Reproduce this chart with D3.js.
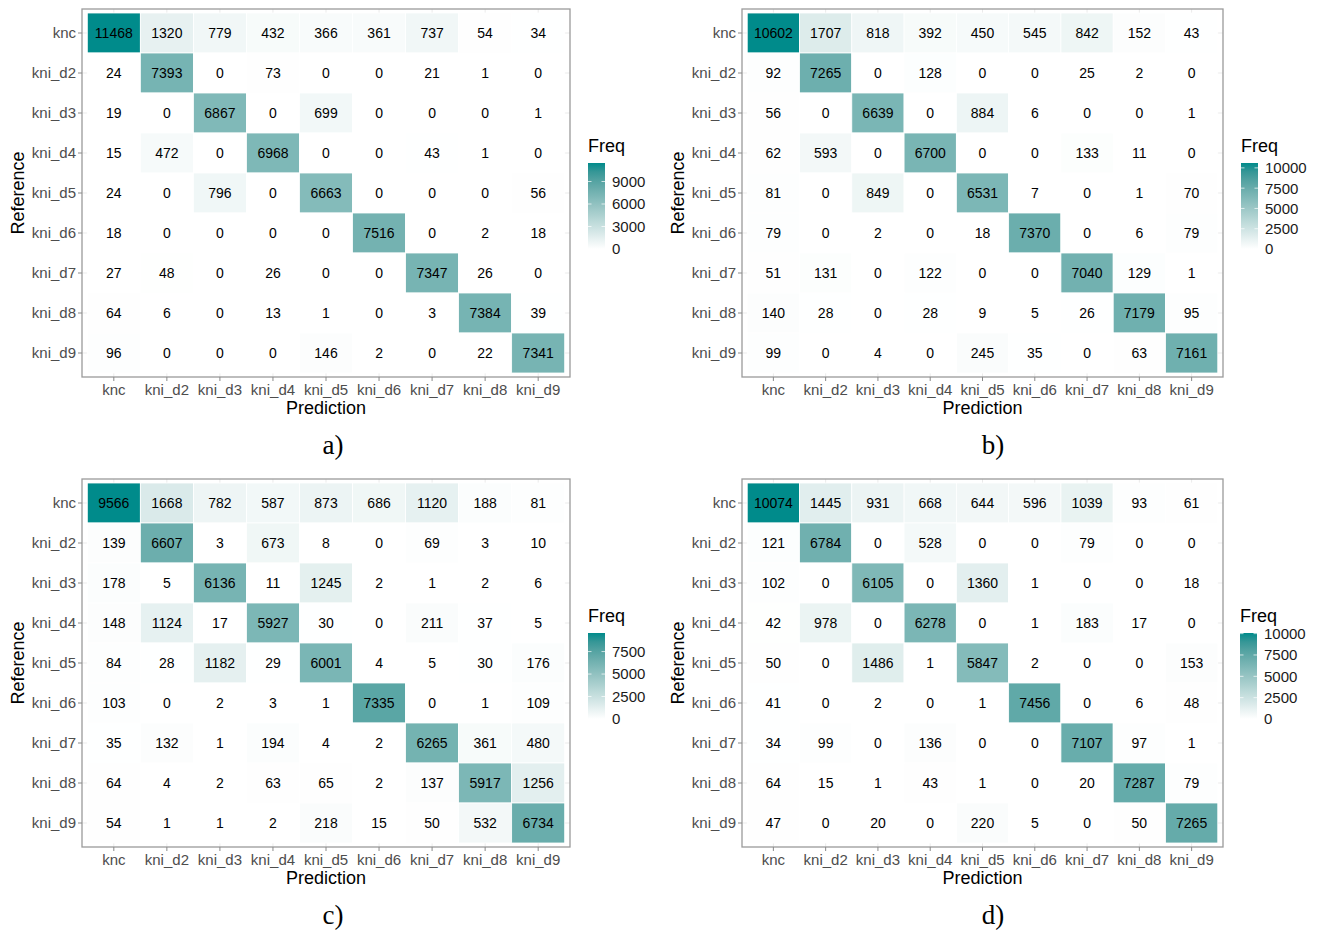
<!DOCTYPE html>
<html>
<head>
<meta charset="utf-8">
<script src="https://cdn.jsdelivr.net/npm/d3@7"></script>
<style>
  body { margin: 0; background: #fff; }
  svg { display: block; }
</style>
</head>
<body>
<svg id="chart" width="1322" height="933"></svg>
<script>
'use strict';

var classes = ['knc', 'kni_d2', 'kni_d3', 'kni_d4', 'kni_d5', 'kni_d6', 'kni_d7', 'kni_d8', 'kni_d9'];

// rows = Reference, columns = Prediction
var matrixA = [
    [11468, 1320, 779, 432, 366, 361, 737, 54, 34],
    [24, 7393, 0, 73, 0, 0, 21, 1, 0],
    [19, 0, 6867, 0, 699, 0, 0, 0, 1],
    [15, 472, 0, 6968, 0, 0, 43, 1, 0],
    [24, 0, 796, 0, 6663, 0, 0, 0, 56],
    [18, 0, 0, 0, 0, 7516, 0, 2, 18],
    [27, 48, 0, 26, 0, 0, 7347, 26, 0],
    [64, 6, 0, 13, 1, 0, 3, 7384, 39],
    [96, 0, 0, 0, 146, 2, 0, 22, 7341]
];

var matrixB = [
    [10602, 1707, 818, 392, 450, 545, 842, 152, 43],
    [92, 7265, 0, 128, 0, 0, 25, 2, 0],
    [56, 0, 6639, 0, 884, 6, 0, 0, 1],
    [62, 593, 0, 6700, 0, 0, 133, 11, 0],
    [81, 0, 849, 0, 6531, 7, 0, 1, 70],
    [79, 0, 2, 0, 18, 7370, 0, 6, 79],
    [51, 131, 0, 122, 0, 0, 7040, 129, 1],
    [140, 28, 0, 28, 9, 5, 26, 7179, 95],
    [99, 0, 4, 0, 245, 35, 0, 63, 7161]
];

var matrixC = [
    [9566, 1668, 782, 587, 873, 686, 1120, 188, 81],
    [139, 6607, 3, 673, 8, 0, 69, 3, 10],
    [178, 5, 6136, 11, 1245, 2, 1, 2, 6],
    [148, 1124, 17, 5927, 30, 0, 211, 37, 5],
    [84, 28, 1182, 29, 6001, 4, 5, 30, 176],
    [103, 0, 2, 3, 1, 7335, 0, 1, 109],
    [35, 132, 1, 194, 4, 2, 6265, 361, 480],
    [64, 4, 2, 63, 65, 2, 137, 5917, 1256],
    [54, 1, 1, 2, 218, 15, 50, 532, 6734]
];

var matrixD = [
    [10074, 1445, 931, 668, 644, 596, 1039, 93, 61],
    [121, 6784, 0, 528, 0, 0, 79, 0, 0],
    [102, 0, 6105, 0, 1360, 1, 0, 0, 18],
    [42, 978, 0, 6278, 0, 1, 183, 17, 0],
    [50, 0, 1486, 1, 5847, 2, 0, 0, 153],
    [41, 0, 2, 0, 1, 7456, 0, 6, 48],
    [34, 99, 0, 136, 0, 0, 7107, 97, 1],
    [64, 15, 1, 43, 1, 0, 20, 7287, 79],
    [47, 0, 20, 0, 220, 5, 0, 50, 7265]
];

var ticksA = [0, 3000, 6000, 9000];
var ticksB = [0, 2500, 5000, 7500, 10000];
var ticksC = [0, 2500, 5000, 7500];
var ticksD = [0, 2500, 5000, 7500, 10000];

var captions = ['a)', 'b)', 'c)', 'd)'];

var panels = [
    {m: matrixA, ticks: ticksA, left: 82, right: 570, top: 9, legendX: 588, capX: 333},
    {m: matrixB, ticks: ticksB, left: 742, right: 1223, top: 9, legendX: 1241, capX: 993},
    {m: matrixC, ticks: ticksC, left: 82, right: 570, top: 479, legendX: 588, capX: 333},
    {m: matrixD, ticks: ticksD, left: 742, right: 1223, top: 479, legendX: 1240, capX: 993}
];

var sansFont = '"Liberation Sans", Arial, Helvetica, sans-serif';
var svg = d3.select('#chart');
var defs = svg.append('defs');
var highColor = '#008B8B';

panels.forEach(function (p, idx) {
    var bottom = p.top + 368;
    var g = svg.append('g');

    var x = d3.scaleBand().domain(classes).range([p.left, p.right]).paddingInner(0).paddingOuter(0.1);
    var y = d3.scaleBand().domain(classes).range([p.top, bottom]).paddingInner(0).paddingOuter(0.1);

    var maxVal = d3.max(p.m, function (r) { return d3.max(r); });
    var color = d3.scaleLinear().domain([0, maxVal]).range(['#ffffff', highColor]).interpolate(d3.interpolateLab);

    // grid
    g.selectAll('line.gx').data(classes).enter().append('line')
        .attr('x1', function (d) { return x(d) + x.bandwidth() / 2; })
        .attr('x2', function (d) { return x(d) + x.bandwidth() / 2; })
        .attr('y1', p.top).attr('y2', bottom)
        .attr('stroke', '#ebebeb').attr('stroke-width', 1);
    g.selectAll('line.gy').data(classes).enter().append('line')
        .attr('y1', function (d) { return y(d) + y.bandwidth() / 2; })
        .attr('y2', function (d) { return y(d) + y.bandwidth() / 2; })
        .attr('x1', p.left).attr('x2', p.right)
        .attr('stroke', '#ebebeb').attr('stroke-width', 1);

    var cells = [];
    p.m.forEach(function (row, i) {
        row.forEach(function (v, j) {
            cells.push({ref: classes[i], pred: classes[j], v: v});
        });
    });

    g.selectAll('rect.cell').data(cells).enter().append('rect')
        .attr('x', function (d) { return x(d.pred); })
        .attr('y', function (d) { return y(d.ref); })
        .attr('width', x.bandwidth())
        .attr('height', y.bandwidth())
        .attr('fill', function (d) { return color(d.v); })
        .attr('stroke', '#ffffff').attr('stroke-width', 0.8);

    g.selectAll('text.val').data(cells).enter().append('text')
        .attr('x', function (d) { return x(d.pred) + x.bandwidth() / 2; })
        .attr('y', function (d) { return y(d.ref) + y.bandwidth() / 2; })
        .attr('dy', '0.36em')
        .attr('text-anchor', 'middle')
        .style('font-family', sansFont).style('font-size', '14px')
        .attr('fill', '#000')
        .text(function (d) { return d.v; });

    // panel border
    g.append('rect')
        .attr('x', p.left).attr('y', p.top)
        .attr('width', p.right - p.left).attr('height', bottom - p.top)
        .attr('fill', 'none').attr('stroke', '#9a9a9a').attr('stroke-width', 1.3);

    // axes
    var xAxis = g.append('g').attr('transform', 'translate(0,' + bottom + ')')
        .call(d3.axisBottom(x).tickSize(4).tickPadding(3));
    var yAxis = g.append('g').attr('transform', 'translate(' + p.left + ',0)')
        .call(d3.axisLeft(y).tickSize(4).tickPadding(2));
    [xAxis, yAxis].forEach(function (a) {
        a.select('.domain').remove();
        a.selectAll('.tick line').attr('stroke', '#8a8a8a');
        a.selectAll('.tick text')
            .style('font-family', sansFont).style('font-size', '15px')
            .attr('fill', '#4d4d4d');
    });

    g.append('text')
        .attr('x', (p.left + p.right) / 2).attr('y', bottom + 37)
        .attr('text-anchor', 'middle')
        .style('font-family', sansFont).style('font-size', '18px')
        .text('Prediction');

    g.append('text')
        .attr('transform', 'translate(' + (p.left - 58) + ',' + ((p.top + bottom) / 2) + ') rotate(-90)')
        .attr('text-anchor', 'middle')
        .style('font-family', sansFont).style('font-size', '18px')
        .text('Reference');

    // legend
    var barTop = p.top + 154, barBottom = p.top + 240, barW = 17;
    var grad = defs.append('linearGradient').attr('id', 'grad' + idx)
        .attr('x1', 0).attr('y1', 1).attr('x2', 0).attr('y2', 0);
    d3.range(0, 1.0001, 0.1).forEach(function (t) {
        grad.append('stop').attr('offset', t).attr('stop-color', color(t * maxVal));
    });

    g.append('text')
        .attr('x', p.legendX).attr('y', p.top + 143)
        .style('font-family', sansFont).style('font-size', '18px')
        .text('Freq');

    g.append('rect')
        .attr('x', p.legendX).attr('y', barTop)
        .attr('width', barW).attr('height', barBottom - barTop)
        .attr('fill', 'url(#grad' + idx + ')');

    var ly = d3.scaleLinear().domain([0, maxVal]).range([barBottom, barTop]);
    var lt = g.selectAll('g.lt' + idx).data(p.ticks).enter().append('g')
        .attr('transform', function (d) { return 'translate(0,' + ly(d) + ')'; });
    lt.append('line').attr('x1', p.legendX).attr('x2', p.legendX + 3.5)
        .attr('stroke', '#ffffff').attr('stroke-opacity', 0.7);
    lt.append('line').attr('x1', p.legendX + barW - 3.5).attr('x2', p.legendX + barW)
        .attr('stroke', '#ffffff').attr('stroke-opacity', 0.7);
    lt.append('text')
        .attr('x', p.legendX + barW + 7).attr('dy', '0.36em')
        .style('font-family', sansFont).style('font-size', '15px')
        .attr('fill', '#1a1a1a')
        .text(function (d) { return d; });

    // caption
    svg.append('text')
        .attr('x', p.capX).attr('y', p.top + 445)
        .attr('text-anchor', 'middle')
        .style('font-family', '"Liberation Serif", "Times New Roman", serif')
        .style('font-size', '27px')
        .text(captions[idx]);
});
</script>
</body>
</html>
